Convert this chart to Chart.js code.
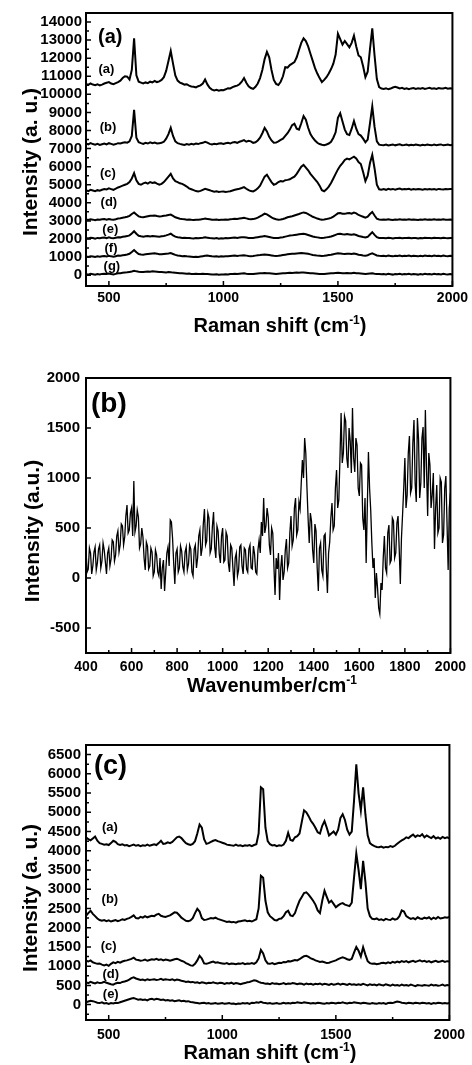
<!DOCTYPE html>
<html>
<head>
<meta charset="utf-8">
<script src="https://cdn.jsdelivr.net/npm/chart.js@4.4.1/dist/chart.umd.min.js"></script>
<style>
  body { margin: 0; background: #fff; }
  #page { position: relative; width: 472px; height: 1065px; overflow: hidden; font-family: "Liberation Sans", Arial, sans-serif; font-weight: bold; color: #000; }
  canvas { position: absolute; left: 0; }
  .title { position: absolute; white-space: nowrap; line-height: 20px; font-size: 20px; transform: translate(-50%, -50%); }
  .ytitle { font-size: 21px; transform: translate(-50%, -50%) rotate(-90deg); }
  sup { font-size: 12px; position: relative; top: -8px; vertical-align: baseline; line-height: 0; }
</style>
</head>
<body>
<div id="page">
  <canvas id="chartA" width="472" height="345" style="top:0"></canvas>
  <canvas id="chartB" width="472" height="360" style="top:345px"></canvas>
  <canvas id="chartC" width="472" height="360" style="top:705px"></canvas>
  <div class="title ytitle" style="left:30px;top:162px">Intensity (a. u.)</div>
  <div class="title" style="left:280px;top:325px">Raman shift (cm<sup>-1</sup>)</div>
  <div class="title ytitle" style="left:32px;top:531px">Intensity (a.u.)</div>
  <div class="title" style="left:272px;top:685px">Wavenumber/cm<sup>-1</sup></div>
  <div class="title ytitle" style="left:30px;top:898px">Intensity (a. u.)</div>
  <div class="title" style="left:270px;top:1052px">Raman shift (cm<sup>-1</sup>)</div>
</div>
<script>
// Raman shift grid (cm-1) for panels (a) and (c)
const shift = [
  400, 410, 420, 430, 440, 450, 460, 470, 480, 490,
  500, 510, 520, 530, 540, 550, 560, 570, 580, 590,
  600, 610, 620, 630, 640, 650, 660, 670, 680, 690,
  700, 710, 720, 730, 740, 750, 760, 770, 780, 790,
  800, 810, 820, 830, 840, 850, 860, 870, 880, 890,
  900, 910, 920, 930, 940, 950, 960, 970, 980, 990,
  1000, 1010, 1020, 1030, 1040, 1050, 1060, 1070, 1080, 1090,
  1100, 1110, 1120, 1130, 1140, 1150, 1160, 1170, 1180, 1190,
  1200, 1210, 1220, 1230, 1240, 1250, 1260, 1270, 1280, 1290,
  1300, 1310, 1320, 1330, 1340, 1350, 1360, 1370, 1380, 1390,
  1400, 1410, 1420, 1430, 1440, 1450, 1460, 1470, 1480, 1490,
  1500, 1510, 1520, 1530, 1540, 1550, 1560, 1570, 1580, 1590,
  1600, 1610, 1620, 1630, 1640, 1650, 1660, 1670, 1680, 1690,
  1700, 1710, 1720, 1730, 1740, 1750, 1760, 1770, 1780, 1790,
  1800, 1810, 1820, 1830, 1840, 1850, 1860, 1870, 1880, 1890,
  1900, 1910, 1920, 1930, 1940, 1950, 1960, 1970, 1980, 1990,
  2000
];

// wavenumber grid (cm-1) for panel (b), finer
const wavenumber = [
  400, 405, 410, 415, 420, 425, 430, 435, 440, 445, 450, 455, 460, 465, 470, 475, 480, 485, 490, 495,
  500, 505, 510, 515, 520, 525, 530, 535, 540, 545, 550, 555, 560, 565, 570, 575, 580, 585, 590, 595,
  600, 605, 610, 615, 620, 625, 630, 635, 640, 645, 650, 655, 660, 665, 670, 675, 680, 685, 690, 695,
  700, 705, 710, 715, 720, 725, 730, 735, 740, 745, 750, 755, 760, 765, 770, 775, 780, 785, 790, 795,
  800, 805, 810, 815, 820, 825, 830, 835, 840, 845, 850, 855, 860, 865, 870, 875, 880, 885, 890, 895,
  900, 905, 910, 915, 920, 925, 930, 935, 940, 945, 950, 955, 960, 965, 970, 975, 980, 985, 990, 995,
  1000, 1005, 1010, 1015, 1020, 1025, 1030, 1035, 1040, 1045, 1050, 1055, 1060, 1065, 1070, 1075, 1080, 1085, 1090, 1095,
  1100, 1105, 1110, 1115, 1120, 1125, 1130, 1135, 1140, 1145, 1150, 1155, 1160, 1165, 1170, 1175, 1180, 1185, 1190, 1195,
  1200, 1205, 1210, 1215, 1220, 1225, 1230, 1235, 1240, 1245, 1250, 1255, 1260, 1265, 1270, 1275, 1280, 1285, 1290, 1295,
  1300, 1305, 1310, 1315, 1320, 1325, 1330, 1335, 1340, 1345, 1350, 1355, 1360, 1365, 1370, 1375, 1380, 1385, 1390, 1395,
  1400, 1405, 1410, 1415, 1420, 1425, 1430, 1435, 1440, 1445, 1450, 1455, 1460, 1465, 1470, 1475, 1480, 1485, 1490, 1495,
  1500, 1505, 1510, 1515, 1520, 1525, 1530, 1535, 1540, 1545, 1550, 1555, 1560, 1565, 1570, 1575, 1580, 1585, 1590, 1595,
  1600, 1605, 1610, 1615, 1620, 1625, 1630, 1635, 1640, 1645, 1650, 1655, 1660, 1665, 1670, 1675, 1680, 1685, 1690, 1695,
  1700, 1705, 1710, 1715, 1720, 1725, 1730, 1735, 1740, 1745, 1750, 1755, 1760, 1765, 1770, 1775, 1780, 1785, 1790, 1795,
  1800, 1805, 1810, 1815, 1820, 1825, 1830, 1835, 1840, 1845, 1850, 1855, 1860, 1865, 1870, 1875, 1880, 1885, 1890, 1895,
  1900, 1905, 1910, 1915, 1920, 1925, 1930, 1935, 1940, 1945, 1950, 1955, 1960, 1965, 1970, 1975, 1980, 1985, 1990, 1995,
  2000
];

// ---- panel (a): seven stacked spectra ----
const panelA1 = [
  10580, 10520, 10600, 10540, 10510, 10560, 10490, 10540, 10600, 10640,
  10680, 10600, 10560, 10620, 10680, 10760, 10900, 11000, 10980, 10820,
  11350, 13100, 11050, 10700, 10650, 10600, 10660, 10620, 10700, 10660,
  10740, 10680, 10720, 10800, 10950, 11300, 11850, 12400, 11700, 11050,
  10760, 10650, 10600, 10540, 10560, 10480, 10440, 10420, 10380, 10450,
  10500, 10600, 10820, 10550, 10360, 10260, 10220, 10250, 10200, 10240,
  10230, 10280, 10340, 10330, 10400, 10450, 10480, 10560, 10700, 10900,
  10640, 10450, 10350, 10300, 10420, 10600, 10900, 11350, 11950, 12350,
  12050, 11350, 10800, 10580, 10520, 10700, 11000, 11500, 11480, 11620,
  11700, 11780, 12050, 12450, 12850, 13100, 12950, 12650, 12250, 11850,
  11450, 11150, 10900, 10680, 10800, 10950, 11150, 11400, 11700, 12200,
  13350, 13050, 12750, 12950, 12780, 12600, 12850, 13250, 12650, 12150,
  12050, 11550, 10950, 11250, 12500, 13650, 12150, 10850, 10400, 10320,
  10300, 10340, 10280, 10320, 10380, 10420, 10380, 10330, 10360, 10300,
  10340, 10290, 10330, 10350, 10300, 10340, 10310, 10350, 10300, 10330,
  10360, 10310, 10340, 10300, 10350, 10320, 10330, 10360, 10310, 10340,
  10330
];
const panelA2 = [
  7280, 7230, 7300, 7250, 7220, 7260, 7200, 7240, 7280, 7230,
  7300, 7260, 7220, 7250, 7300, 7280, 7320, 7350, 7330, 7400,
  7700, 9150, 7600, 7350, 7300, 7260, 7320, 7280, 7350, 7300,
  7330, 7280, 7300, 7320, 7380, 7550, 7800, 8150, 7700, 7400,
  7300, 7260, 7230, 7200, 7250, 7220, 7260, 7230, 7280, 7250,
  7300, 7320, 7380, 7330, 7260, 7230, 7270, 7240, 7280, 7300,
  7260, 7300, 7320, 7280, 7340, 7360, 7320, 7380, 7420, 7470,
  7380, 7430, 7400, 7320, 7350, 7450, 7600, 7850, 8150, 7950,
  7650, 7450, 7320, 7330, 7400, 7480, 7550, 7700, 7850, 8050,
  8300, 8380, 8100, 8050, 8400, 8800, 8600, 8150, 7800, 7600,
  7450, 7320, 7250, 7210, 7190, 7230, 7280, 7380, 7600, 7900,
  8700, 8950, 8500, 8050, 7800, 7750, 8100, 8530, 8100, 7800,
  7720, 7550, 7350, 7500, 8400, 9330, 8200, 7400, 7220, 7200,
  7190, 7220, 7170, 7200, 7230, 7180, 7210, 7240, 7190, 7200,
  7220, 7180, 7210, 7190, 7230, 7200, 7170, 7210, 7190, 7220,
  7200, 7180, 7220, 7190, 7210, 7230, 7180, 7200, 7220, 7190,
  7210
];
const panelA3 = [
  4700, 4650, 4720, 4680, 4640, 4700, 4670, 4720, 4760, 4740,
  4800, 4760, 4720, 4780, 4850, 4900, 4950, 5000, 5050, 5150,
  5350, 5640, 5250, 5050, 5000, 5080, 5120, 5060, 5150, 5100,
  5130, 5060, 5000, 5050, 5150, 5300, 5450, 5600, 5350, 5200,
  5150, 5080, 5050, 4980, 4900, 4800, 4750, 4700, 4650, 4630,
  4660, 4720, 4780, 4740, 4700, 4650, 4620, 4640, 4600, 4620,
  4630, 4600, 4620, 4640, 4680, 4720, 4750, 4780, 4820, 4870,
  4780, 4700, 4650, 4630, 4700, 4800, 4950, 5200, 5450, 5550,
  5350, 5150, 5000, 5050, 5150, 5200, 5180, 5250, 5270, 5300,
  5380, 5450, 5600, 5800, 6000, 6100, 5950, 5800, 5600, 5450,
  5300, 5150, 4950, 4700, 4640, 4750, 4900, 5100, 5350, 5600,
  5850, 6050, 6200, 6370, 6450, 6400, 6480, 6550, 6450, 6250,
  6150, 5700, 5200, 5500, 6200, 6650, 5900, 5000, 4750, 4720,
  4760, 4720, 4780, 4740, 4770, 4730, 4760, 4790, 4740, 4760,
  4750, 4780, 4730, 4760, 4740, 4770, 4750, 4720, 4760, 4740,
  4770, 4740, 4760, 4730, 4770, 4750, 4740, 4770, 4750, 4760,
  4760
];
const panelA4 = [
  3080, 3050, 3090, 3070, 3040, 3080, 3060, 3090, 3100, 3070,
  3110, 3080, 3060, 3090, 3130, 3150, 3180, 3200, 3230, 3280,
  3380, 3470, 3350, 3250, 3220, 3200, 3230, 3260, 3290, 3280,
  3300, 3270, 3250, 3260, 3280, 3300, 3330, 3350, 3280, 3200,
  3160, 3120, 3100, 3090, 3070, 3080, 3060, 3050, 3070, 3060,
  3080, 3100, 3130, 3110, 3090, 3070, 3060, 3080, 3050, 3070,
  3060, 3080, 3070, 3090, 3100, 3120, 3110, 3130, 3150, 3170,
  3140, 3110, 3090, 3100, 3130, 3180, 3250, 3320, 3400, 3360,
  3280, 3200, 3130, 3090, 3070, 3080, 3110, 3150, 3200, 3230,
  3260, 3300, 3340, 3380, 3430, 3470, 3440, 3380, 3300, 3230,
  3180, 3130, 3090, 3070, 3080, 3100, 3130, 3170, 3240, 3330,
  3420, 3440, 3400, 3390, 3420, 3440, 3400, 3460, 3420, 3330,
  3280, 3230, 3180, 3230, 3380, 3490, 3300, 3120, 3080, 3070,
  3080, 3060, 3090, 3070, 3050, 3080, 3070, 3090, 3060, 3080,
  3070, 3090, 3060, 3080, 3070, 3050, 3080, 3060, 3090, 3070,
  3080, 3060, 3090, 3070, 3080, 3060, 3090, 3070, 3060, 3080,
  3070
];
const panelA5 = [
  2060, 2030, 2070, 2050, 2020, 2060, 2040, 2070, 2080, 2050,
  2090, 2060, 2040, 2070, 2100, 2090, 2120, 2140, 2160, 2200,
  2300, 2430, 2290, 2180, 2150, 2130, 2150, 2170, 2140, 2160,
  2150, 2140, 2130, 2150, 2170, 2200, 2240, 2290, 2200, 2130,
  2100, 2080, 2060, 2070, 2050, 2060, 2040, 2030, 2050, 2040,
  2060, 2070, 2090, 2070, 2050, 2040, 2030, 2050, 2020, 2040,
  2030, 2050, 2040, 2060, 2070, 2080, 2060, 2080, 2090, 2100,
  2080, 2060, 2050, 2060, 2080, 2100, 2120, 2140, 2160, 2140,
  2110, 2080, 2060, 2050, 2060, 2080, 2100, 2130, 2160, 2190,
  2200, 2220, 2240, 2260, 2280, 2290, 2260, 2220, 2180, 2140,
  2110, 2090, 2070, 2060, 2070, 2090, 2110, 2140, 2180, 2230,
  2280, 2290, 2260, 2250, 2270, 2250, 2230, 2260, 2220, 2170,
  2140, 2110, 2090, 2120, 2250, 2380, 2230, 2100, 2060, 2050,
  2060, 2040, 2070, 2050, 2030, 2060, 2050, 2070, 2040, 2060,
  2050, 2070, 2040, 2060, 2050, 2030, 2060, 2040, 2070, 2050,
  2060, 2040, 2070, 2050, 2060, 2040, 2070, 2050, 2040, 2060,
  2050
];
const panelA6 = [
  1040, 1010, 1050, 1030, 1000, 1040, 1020, 1050, 1060, 1030,
  1070, 1040, 1020, 1050, 1080, 1070, 1100, 1120, 1140, 1180,
  1280, 1390, 1270, 1170, 1140, 1130, 1150, 1170, 1190, 1200,
  1210, 1190, 1160, 1150, 1170, 1190, 1200, 1220, 1170, 1120,
  1090, 1070, 1050, 1060, 1040, 1030, 1020, 1000, 1020, 1010,
  1030, 1050, 1070, 1080, 1060, 1040, 1030, 1050, 1020, 1040,
  1030, 1050, 1040, 1060, 1070, 1080, 1060, 1080, 1090, 1100,
  1080, 1060, 1050, 1060, 1080, 1100, 1110, 1130, 1140, 1130,
  1110, 1090, 1070, 1060, 1070, 1090, 1110, 1130, 1150, 1170,
  1180, 1190, 1200, 1210, 1220, 1210, 1200, 1180, 1150, 1120,
  1100, 1080, 1070, 1060, 1070, 1090, 1110, 1130, 1160, 1190,
  1210, 1200, 1180, 1170, 1190, 1180, 1170, 1200, 1170, 1130,
  1110, 1090, 1080, 1100, 1160, 1210, 1150, 1090, 1070, 1060,
  1070, 1050, 1080, 1060, 1040, 1070, 1060, 1080, 1050, 1070,
  1060, 1080, 1050, 1070, 1060, 1040, 1070, 1050, 1080, 1060,
  1070, 1050, 1080, 1060, 1070, 1050, 1080, 1060, 1050, 1070,
  1060
];
const panelA7 = [
  60, 30, 70, 50, 20, 60, 40, 70, 80, 60,
  90, 60, 40, 70, 100, 110, 130, 150, 160, 180,
  200, 240, 210, 190, 180, 170, 190, 200, 190, 210,
  200, 190, 180, 170, 160, 150, 170, 160, 140, 130,
  120, 110, 100, 90, 80, 90, 70, 60, 80, 70,
  60, 80, 70, 60, 50, 40, 30, 50, 20, 40,
  30, 50, 40, 60, 70, 80, 60, 80, 90, 100,
  80, 70, 60, 70, 80, 90, 100, 110, 120, 110,
  100, 90, 80, 70, 80, 90, 100, 110, 120, 130,
  120, 130, 140, 130, 150, 140, 130, 120, 110, 100,
  90, 80, 70, 60, 70, 80, 90, 100, 110, 120,
  130, 120, 110, 100, 120, 110, 100, 130, 110, 100,
  90, 80, 70, 80, 90, 100, 80, 70, 60, 50,
  60, 40, 70, 50, 30, 60, 50, 70, 40, 60,
  50, 70, 40, 60, 50, 30, 60, 40, 70, 50,
  60, 40, 70, 50, 60, 40, 70, 50, 40, 60,
  40
];

// ---- panel (b): single noisy spectrum, on the wavenumber grid ----
const panelB = [
  280, 60, 90, 300, 250, 40, 120, 260, 310, 80, 150, 290, 330, 100, 170, 350, 280, 160, 40, 250,
  300, 120, 190, 380, 360, 170, 230, 420, 470, 260, 330, 540, 520, 330, 410, 620, 730, 450, 480, 650,
  700, 420, 970, 460, 520, 680, 610, 300, 340, 500, 410, 200, 80, 360, 320, 90, 120, 300, 260, 20,
  60, 280, 230, 60, 20, 200, -110, 100, 180, -130, 60, 250, 310, 120, 580, 560, 400, 150, -60, 250,
  290, 60, 100, 320, 270, 110, 60, 260, 310, 80, 140, 330, 290, 60, 20, 290, 330, 100, 200, 420,
  480, 220, 300, 540, 690, 330, 370, 650, 600, 250, 290, 520, 660, 310, 200, 520, 470, 240, 150, 420,
  500, 160, 180, 460, 420, 150, 60, 330, 300, 100, -80, 200, 250, 20, 80, 310, 330, 120, 40, 300,
  280, 90, 60, 290, 330, 100, 90, 320, 240, 60, 40, 280, 380, 250, 560, 420, 800, 450, 520, 700,
  610, 330, 230, 500, 450, 120, -170, 200, 90, 250, -220, 100, 230, -20, 60, 280, 390, 100, 150, 450,
  620, 320, 380, 700, 800, 430, 480, 760, 690, 950, 1180, 1000, 1400, 1250, 910, 600, 350, 650, 570, 280,
  150, 540, 470, 100, -130, 300, 350, 80, 20, 420, 440, 100, -150, 250, 360, 600, 750, 480, 520, 900,
  1080, 700, 780, 1200, 1650, 1150, 1250, 1620, 1570, 1200, 1100, 1500, 1370, 1050, 1700, 1200, 1060, 1400, 1330, 900,
  820, 1150, 1130, 600, 480, 800, 150, 700, 1260, 900, 680, 350, 100, 200, -200, 50, -100, -300, -360, -50,
  -120, 200, 420, 100, 50, 450, 530, 150, 180, 600, 570, 200, 250, 550, 620, 300, -60, 400, 640, 900,
  1200, 700, 830, 1250, 1420, 850, 900, 1350, 1580, 950, 760, 1600, 1390, 800, 950, 1400, 1510, 900, 1680, 1100,
  620, 1250, 1130, 700, 830, 1050, 290, 700, 930, 450, 500, 1000, 960, 350, 430, 900, 1020, 550, 80, 700,
  850
];

// ---- panel (c): five stacked spectra ----
const panelC1 = [
  4350, 4300, 4270, 4320, 4370, 4260, 4200, 4180, 4160, 4170,
  4150, 4200, 4260, 4230, 4170, 4150, 4170, 4140, 4150, 4120,
  4140, 4160, 4130, 4150, 4120, 4140, 4130, 4160, 4130, 4150,
  4170, 4150, 4200, 4260, 4180, 4190, 4220, 4200, 4230, 4290,
  4350, 4370, 4330, 4260, 4200, 4170, 4150, 4180, 4250, 4450,
  4680, 4600, 4300, 4180, 4200, 4230, 4260, 4280, 4250, 4230,
  4210, 4190, 4160, 4150, 4140, 4130, 4160, 4130, 4140, 4120,
  4140, 4130, 4150, 4120, 4150, 4170, 4450, 5650, 5600, 4600,
  4250, 4170, 4140, 4150, 4120, 4140, 4130, 4160, 4260, 4470,
  4280, 4260, 4350, 4380, 4450, 4750, 5050, 5000, 4900, 4780,
  4700, 4600, 4480, 4450, 4650, 4770, 4600, 4400, 4450, 4500,
  4420, 4550, 4850, 4950, 4800, 4550, 4420, 4500, 5300, 6250,
  5500, 5050, 5650, 4950, 4400, 4200, 4150, 4120, 4100, 4090,
  4110, 4080, 4100, 4090, 4120, 4100, 4130, 4180, 4230, 4270,
  4300, 4350, 4330, 4380, 4420, 4360, 4400, 4380, 4430, 4350,
  4400, 4360, 4330, 4380, 4320, 4350, 4310, 4360, 4330, 4350,
  4320
];
const panelC2 = [
  2310, 2380, 2440, 2360, 2300, 2240, 2200, 2180, 2200, 2170,
  2190, 2160, 2180, 2200, 2170, 2190, 2220, 2200, 2230, 2250,
  2280, 2320, 2250, 2240, 2280, 2260, 2300, 2270, 2290, 2310,
  2300, 2340, 2360, 2310, 2290, 2280, 2300, 2320, 2360, 2400,
  2390, 2330, 2260, 2220, 2180, 2170, 2190, 2250, 2380, 2490,
  2420, 2250, 2200, 2210, 2230, 2250, 2240, 2260, 2230, 2210,
  2190, 2170, 2150, 2160, 2140, 2150, 2130, 2160, 2170, 2180,
  2190, 2170, 2180, 2160, 2190, 2220, 2500, 3350, 3300, 2700,
  2400, 2300, 2250, 2200, 2190, 2230, 2240, 2300, 2400, 2440,
  2320, 2300, 2380, 2550, 2700, 2800, 2900, 2920, 2860, 2780,
  2700, 2600, 2450, 2380, 2700, 2960, 2800, 2650, 2700, 2620,
  2530, 2580, 2620, 2640, 2600, 2580, 2560, 2650, 3300, 3930,
  3500, 3000, 3740, 3200, 2500, 2300, 2230, 2220, 2240, 2200,
  2220, 2190, 2230, 2210, 2200, 2240, 2210, 2230, 2300, 2450,
  2420, 2300, 2260, 2230, 2250, 2220, 2270, 2240, 2230, 2260,
  2240, 2270, 2220, 2260, 2230, 2280, 2240, 2250, 2270, 2260,
  2280
];
const panelC3 = [
  1140, 1120, 1150, 1100, 1080, 1060, 1070, 1040, 1020, 1040,
  1010, 1060, 1100, 1080, 1110, 1090, 1120, 1140, 1150, 1170,
  1190, 1220, 1170, 1160, 1140, 1150, 1170, 1140, 1160, 1180,
  1170, 1190, 1160, 1180, 1150, 1170, 1160, 1140, 1160, 1180,
  1190, 1170, 1140, 1120, 1080, 1050, 1020, 1010, 1060, 1150,
  1270, 1200, 1070, 1060, 1080, 1100, 1120, 1090, 1100, 1080,
  1070, 1060, 1080, 1050, 1070, 1060, 1050, 1070, 1060, 1080,
  1050, 1070, 1060, 1080, 1060, 1100, 1200, 1420, 1330, 1150,
  1070, 1060, 1080, 1050, 1070, 1090, 1080, 1110, 1100, 1130,
  1120, 1140, 1160, 1150, 1180, 1220, 1260, 1270, 1240, 1200,
  1180, 1150, 1130, 1110, 1120, 1100, 1080, 1090, 1110, 1130,
  1150, 1180, 1210, 1230, 1210, 1180, 1160, 1190, 1350, 1500,
  1400, 1250, 1490, 1300, 1130, 1080, 1060, 1070, 1050, 1060,
  1080, 1090, 1070, 1100, 1080, 1110, 1090, 1120, 1100, 1130,
  1110, 1130, 1100, 1120, 1140, 1110, 1130, 1150, 1120, 1140,
  1110, 1130, 1100, 1120, 1140, 1110, 1120, 1140, 1110, 1130,
  1120
];
const panelC4 = [
  580, 560, 590, 570, 550, 580, 560, 570, 590, 570,
  550, 530, 520, 550, 570, 560, 590, 600, 620, 650,
  690, 710, 680, 660, 640, 650, 630, 660, 640, 650,
  660, 640, 650, 670, 640, 660, 650, 640, 660, 630,
  650, 640, 620, 610, 590, 600, 580, 590, 570, 580,
  560, 580, 570, 550, 570, 560, 580, 560, 550, 570,
  560, 540, 560, 550, 570, 540, 560, 550, 530, 550,
  560, 580, 590, 610, 630, 620, 590, 570, 560, 540,
  550, 530, 560, 540, 550, 530, 540, 560, 530, 550,
  540, 560, 550, 530, 550, 540, 520, 550, 530, 540,
  520, 540, 530, 550, 520, 540, 530, 510, 540, 520,
  530, 550, 520, 540, 530, 510, 540, 520, 530, 510,
  530, 510, 540, 520, 500, 530, 510, 520, 500, 530,
  510, 500, 530, 510, 490, 520, 500, 510, 490, 520,
  500, 510, 490, 520, 500, 480, 510, 500, 490, 510,
  500, 490, 520, 500, 510, 490, 500, 520, 490, 510,
  500
];
const panelC5 = [
  60, 80, 100, 90, 70, 50, 40, 60, 30, 40,
  20, 40, 30, 50, 40, 60, 80, 100, 120, 140,
  160, 170, 150, 130, 140, 120, 130, 110, 140, 150,
  130, 150, 140, 120, 130, 110, 120, 100, 110, 90,
  100, 110, 90, 100, 80, 90, 70, 60, 50, 40,
  30, 40, 50, 30, 40, 20, 30, 40, 20, 30,
  40, 20, 30, 40, 20, 30, 10, 30, 20, 40,
  30, 40, 20, 50, 40, 60, 50, 70, 50, 40,
  30, 40, 20, 30, 40, 20, 30, 50, 30, 40,
  30, 50, 40, 60, 50, 40, 60, 50, 40, 30,
  40, 30, 50, 40, 30, 20, 40, 30, 50, 40,
  30, 50, 40, 60, 40, 30, 50, 40, 60, 50,
  40, 30, 50, 40, 30, 20, 40, 30, 20, 40,
  30, 40, 20, 40, 50, 40, 60, 80, 70, 50,
  40, 30, 50, 40, 30, 50, 40, 30, 50, 40,
  30, 40, 20, 40, 30, 50, 40, 30, 40, 30,
  40
];

// tick values
const ticksAX = [500, 1000, 1500, 2000];
const minorAX = [750, 1250, 1750];
const ticksAY = [0, 1000, 2000, 3000, 4000, 5000, 6000, 7000, 8000, 9000, 10000, 11000, 12000, 13000, 14000];
const minorAY = [500, 1500, 2500, 3500, 4500, 5500, 6500, 7500, 8500, 9500, 10500, 11500, 12500, 13500];
const ticksBX = [400, 600, 800, 1000, 1200, 1400, 1600, 1800, 2000];
const minorBX = [500, 700, 900, 1100, 1300, 1500, 1700, 1900];
const ticksBY = [-500, 0, 500, 1000, 1500, 2000];
const minorBY = [];
const ticksCX = [500, 1000, 1500, 2000];
const minorCX = [750, 1250, 1750];
const ticksCY = [0, 500, 1000, 1500, 2000, 2500, 3000, 3500, 4000, 4500, 5000, 5500, 6000, 6500];
const minorCY = [-250, 250, 750, 1250, 1750, 2250, 2750, 3250, 3750, 4250, 4750, 5250, 5750, 6250];

const traceNamesA = ['(a)', '(b)', '(c)', '(d)', '(e)', '(f)', '(g)'];
const traceNamesC = ['(a)', '(b)', '(c)', '(d)', '(e)'];

const FONT = '"Liberation Sans", Arial, sans-serif';

// frame, inward ticks and in-plot labels
const framePlugin = {
  id: 'frame',
  afterDatasetsDraw(chart, args, o) {
    const { ctx, chartArea: a } = chart;
    const x = chart.scales.x, y = chart.scales.y;
    ctx.save();
    ctx.strokeStyle = '#000';
    ctx.lineWidth = 1.5;
    ctx.beginPath();
    const xt = (vals, len) => vals.forEach(v => {
      const p = x.getPixelForValue(v);
      ctx.moveTo(p, a.bottom); ctx.lineTo(p, a.bottom - len);
    });
    const yt = (vals, len) => vals.forEach(v => {
      const p = y.getPixelForValue(v);
      ctx.moveTo(a.left, p); ctx.lineTo(a.left + len, p);
    });
    xt(o.xMajor, 5); xt(o.xMinor, 3);
    yt(o.yMajor, 5); yt(o.yMinor, 3);
    ctx.stroke();
    ctx.lineWidth = 2;
    ctx.strokeRect(a.left, a.top, a.right - a.left, a.bottom - a.top);

    ctx.fillStyle = '#000';
    ctx.textAlign = 'center';
    ctx.textBaseline = 'middle';
    ctx.font = 'bold 13px ' + FONT;
    o.tags.forEach(t => ctx.fillText(t.text, x.getPixelForValue(t.x), y.getPixelForValue(t.y)));

    ctx.textAlign = 'left';
    ctx.font = 'bold ' + o.panelSize + 'px ' + FONT;
    ctx.fillText(o.panel, a.left + o.panelDx, a.top + o.panelDy);
    ctx.restore();
  }
};

function makeChart(id, xs, series, c) {
  return new Chart(document.getElementById(id), {
    type: 'line',
    data: {
      datasets: series.map(vals => ({
        data: xs.map((s, i) => ({ x: s, y: vals[i] })),
        borderColor: '#000', borderWidth: c.lineWidth,
        pointRadius: 0, fill: false, tension: 0
      }))
    },
    options: {
      responsive: false, animation: false, events: [],
      layout: { padding: { top: c.top, right: c.right, left: 0, bottom: 0 } },
      plugins: { legend: { display: false }, tooltip: { enabled: false }, frame: c.frame },
      scales: {
        x: {
          type: 'linear', min: 400, max: 2000,
          grid: { display: false, drawTicks: false }, border: { display: false },
          afterBuildTicks: s => { s.ticks = c.xTicks.map(v => ({ value: v })); },
          afterFit: s => { s.height = c.xHeight; },
          ticks: { autoSkip: false, maxRotation: 0, padding: c.xPad, color: '#000',
                   font: { family: FONT, size: 14, weight: 'bold' }, callback: v => String(v) }
        },
        y: {
          type: 'linear', min: c.yMin, max: c.yMax,
          grid: { display: false, drawTicks: false }, border: { display: false },
          afterBuildTicks: s => { s.ticks = c.yTicks.map(v => ({ value: v })); },
          afterFit: s => { s.width = 86; },
          ticks: { autoSkip: false, padding: c.yPad, color: '#000',
                   font: { family: FONT, size: 15, weight: 'bold' }, callback: v => String(v) }
        }
      }
    },
    plugins: [framePlugin]
  });
}

makeChart('chartA', shift, [panelA1, panelA2, panelA3, panelA4, panelA5, panelA6, panelA7], {
  lineWidth: 2, top: 12, right: 18, xHeight: 59, xPad: 4, yPad: 4,
  yMin: -600, yMax: 14500, xTicks: ticksAX, yTicks: ticksAY,
  frame: {
    xMajor: ticksAX, xMinor: minorAX, yMajor: ticksAY, yMinor: minorAY,
    panel: '(a)', panelSize: 20, panelDx: 12, panelDy: 24,
    tags: [
      { text: traceNamesA[0], x: 489, y: 11370 },
      { text: traceNamesA[1], x: 496, y: 8150 },
      { text: traceNamesA[2], x: 496, y: 5600 },
      { text: traceNamesA[3], x: 500, y: 4040 },
      { text: traceNamesA[4], x: 506, y: 2530 },
      { text: traceNamesA[5], x: 509, y: 1480 },
      { text: traceNamesA[6], x: 513, y: 490 }
    ]
  }
});

makeChart('chartB', wavenumber, [panelB], {
  lineWidth: 1.3, top: 33, right: 15, xHeight: 52, xPad: 6, yPad: 6,
  yMin: -750, yMax: 2000, xTicks: ticksBX, yTicks: ticksBY,
  frame: {
    xMajor: ticksBX, xMinor: minorBX, yMajor: ticksBY, yMinor: minorBY,
    panel: '(b)', panelSize: 28, panelDx: 5, panelDy: 26,
    tags: []
  }
});

makeChart('chartC', shift, [panelC1, panelC2, panelC3, panelC4, panelC5], {
  lineWidth: 2, top: 40, right: 18, xHeight: 45, xPad: 7, yPad: 5,
  yMin: -400, yMax: 6750, xTicks: ticksCX, yTicks: ticksCY,
  frame: {
    xMajor: ticksCX, xMinor: minorCX, yMajor: ticksCY, yMinor: minorCY,
    panel: '(c)', panelSize: 27, panelDx: 8, panelDy: 22,
    tags: [
      { text: traceNamesC[0], x: 505, y: 4600 },
      { text: traceNamesC[1], x: 505, y: 2730 },
      { text: traceNamesC[2], x: 500, y: 1510 },
      { text: traceNamesC[3], x: 509, y: 780 },
      { text: traceNamesC[4], x: 509, y: 260 }
    ]
  }
});
</script>
</body>
</html>
